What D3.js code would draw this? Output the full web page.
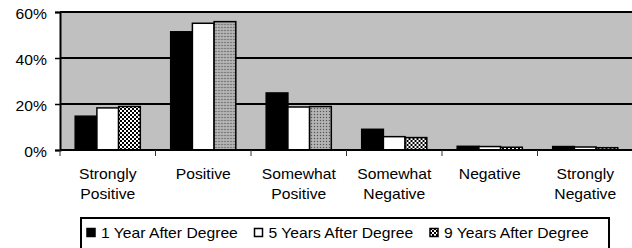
<!DOCTYPE html>
<html>
<head>
<meta charset="utf-8">
<script src="https://cdn.jsdelivr.net/npm/d3@7"></script>
<style>
  body { margin: 0; background: #fff; }
  text { font-family: "Liberation Sans", Arial, sans-serif; fill: #000; }
</style>
</head>
<body>
<svg></svg>
<script>
// chart data
let categories = ["Strongly Positive", "Positive", "Somewhat Positive", "Somewhat Negative", "Negative", "Strongly Negative"]
let labelLines = [["Strongly", "Positive"], ["Positive"], ["Somewhat", "Positive"], ["Somewhat", "Negative"], ["Negative"], ["Strongly", "Negative"]]
let seriesNames = ["1 Year After Degree", "5 Years After Degree", "9 Years After Degree"]
let year1 = [14.7, 51.4, 24.8, 9.0, 1.6, 1.5]
let year5 = [18.3, 55.1, 18.7, 5.8, 1.5, 1.3]
let year9 = [18.9, 55.8, 18.9, 5.4, 1.2, 1.0]
let yTicks = [0, 20, 40, 60]

let width = 632
let height = 248
let plotLeft = 60, plotRight = 633, plotTop = 12, plotBottom = 150
let stretch = 1.12 // text in the picture is a bit wide

let svg = d3.select("svg").attr("width", width).attr("height", height)

// patterns
let defs = svg.append("defs")
let checker = defs.append("pattern").attr("id", "checker")
  .attr("patternUnits", "userSpaceOnUse").attr("width", 4).attr("height", 4)
checker.append("rect").attr("width", 4).attr("height", 4).attr("fill", "#fff")
checker.append("rect").attr("width", 2).attr("height", 2).attr("fill", "#000")
checker.append("rect").attr("x", 2).attr("y", 2).attr("width", 2).attr("height", 2).attr("fill", "#000")

let stipple = defs.append("pattern").attr("id", "stipple")
  .attr("patternUnits", "userSpaceOnUse").attr("width", 3).attr("height", 3)
stipple.append("rect").attr("width", 3).attr("height", 3).attr("fill", "#a8a8a8")
stipple.append("rect").attr("width", 1).attr("height", 1).attr("fill", "#555")
stipple.append("rect").attr("x", 1.5).attr("y", 1.5).attr("width", 1).attr("height", 1).attr("fill", "#ddd")

let values = [year1, year5, year9]
let fills = ["#000", "#fff", "url(#checker)"]

// scales
let x0 = d3.scaleBand().domain(categories).range([plotLeft, plotRight]).padding(0)
let x1 = d3.scaleBand().domain(seriesNames).range([0, x0.bandwidth()]).paddingInner(0).paddingOuter(0.7)
let y = d3.scaleLinear().domain([0, 60]).range([plotBottom, plotTop])

// plot background
svg.append("rect")
   .attr("x", plotLeft).attr("y", plotTop)
   .attr("width", plotRight - plotLeft).attr("height", plotBottom - plotTop)
   .attr("fill", "#c0c0c0")

// gridlines
svg.append("g")
   .selectAll("line")
   .data(yTicks.filter(d => d > 0))
   .enter()
   .append("line")
   .attr("x1", plotLeft).attr("x2", plotRight)
   .attr("y1", d => y(d)).attr("y2", d => y(d))
   .attr("stroke", "#000").attr("stroke-width", 2)

// bars
let groups = svg.append("g")
   .selectAll("g")
   .data(categories)
   .enter()
   .append("g")
   .attr("transform", d => "translate(" + x0(d) + ",0)")

groups.selectAll("rect")
   .data((cat, ci) => seriesNames.map((s, si) => ({ s: s, si: si, ci: ci, v: values[si][ci] })))
   .enter()
   .append("rect")
   .attr("x", d => x1(d.s))
   .attr("y", d => y(d.v))
   .attr("width", x1.bandwidth())
   .attr("height", d => y(0) - y(d.v))
   .attr("fill", d => (d.si === 2 && (d.ci === 1 || d.ci === 2)) ? "url(#stipple)" : fills[d.si])
   .attr("stroke", "#000")
   .attr("stroke-width", 1.5)

// y axis
let yAxis = d3.axisLeft(y).tickValues(yTicks).tickFormat(d => d + "%").tickSize(5).tickPadding(0)
let yg = svg.append("g")
   .attr("transform", "translate(" + plotLeft + ",0)")
   .call(yAxis)
yg.select(".domain").attr("stroke", "#000").attr("stroke-width", 2)
yg.selectAll(".tick line").attr("stroke", "#000").attr("stroke-width", 1.5)
yg.selectAll(".tick text").remove()
yg.selectAll(".tick").append("text")
   .attr("text-anchor", "end")
   .attr("font-size", "14px")
   .attr("transform", "translate(-13,6) scale(" + stretch + ",1)")
   .text(d => d + "%")

// x axis line and ticks between categories
svg.append("line")
   .attr("x1", plotLeft).attr("x2", plotRight)
   .attr("y1", plotBottom).attr("y2", plotBottom)
   .attr("stroke", "#000").attr("stroke-width", 2)

svg.append("g")
   .selectAll("line")
   .data(categories)
   .enter()
   .append("line")
   .attr("x1", d => x0(d)).attr("x2", d => x0(d))
   .attr("y1", plotBottom).attr("y2", plotBottom + 6)
   .attr("stroke", "#333").attr("stroke-width", 1)

// category labels
let labels = svg.append("g")
   .selectAll("g")
   .data(categories)
   .enter()
   .append("g")
   .attr("transform", d => "translate(" + (x0(d) + x0.bandwidth() / 2) + ",0)")

labels.selectAll("text")
   .data((d, i) => labelLines[i])
   .enter()
   .append("text")
   .attr("text-anchor", "middle")
   .attr("font-size", "14px")
   .attr("transform", (d, i) => "translate(0," + (179 + i * 20) + ") scale(" + stretch + ",1)")
   .text(d => d)

// legend
let legend = svg.append("g").attr("id", "legend")
legend.append("rect")
   .attr("x", 81).attr("y", 218)
   .attr("width", 528).attr("height", 40)
   .attr("fill", "#fff").attr("stroke", "#000").attr("stroke-width", 2)

let legendX = [87, 254.5, 430]
let items = legend.selectAll("g.item")
   .data(seriesNames)
   .enter()
   .append("g")
   .attr("class", "item")
   .attr("transform", (d, i) => "translate(" + legendX[i] + ",0)")

items.append("rect")
   .attr("x", 0).attr("y", 228.5)
   .attr("width", 8).attr("height", 8)
   .attr("fill", (d, i) => fills[i])
   .attr("stroke", "#000").attr("stroke-width", 1.5)

items.append("text")
   .attr("font-size", "14px")
   .attr("transform", "translate(14,237.5) scale(" + stretch + ",1)")
   .text(d => d)
</script>
</body>
</html>
